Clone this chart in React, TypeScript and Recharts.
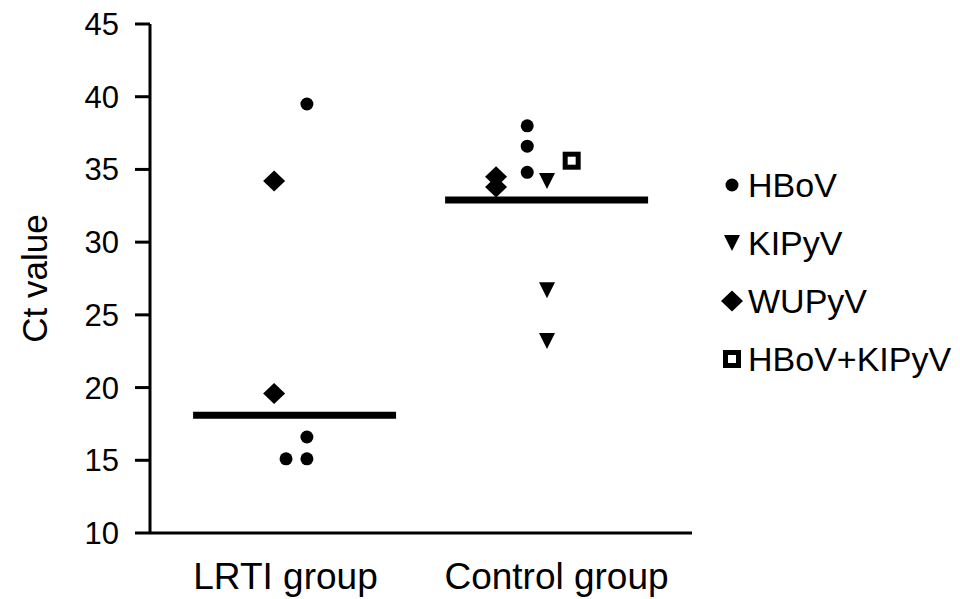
import React from "react";
import {
  ScatterChart,
  Scatter,
  XAxis,
  YAxis,
  ReferenceLine,
  Legend,
} from "recharts";

const groups = ["LRTI group", "Control group"];
const groupTicks = [0.5, 1.5];
const yTicks = [10, 15, 20, 25, 30, 35, 40, 45];
const seriesNames = ["HBoV", "KIPyV", "WUPyV", "HBoV+KIPyV"];

// x = group position with jitter, y = Ct value
const hbov = [
  { x: 0.579, y: 39.5 },
  { x: 0.579, y: 16.6 },
  { x: 0.502, y: 15.1 },
  { x: 0.579, y: 15.1 },
  { x: 1.392, y: 38.0 },
  { x: 1.392, y: 36.6 },
  { x: 1.392, y: 34.8 },
];
const kipyv = [
  { x: 1.465, y: 34.2 },
  { x: 1.465, y: 26.7 },
  { x: 1.465, y: 23.2 },
];
const wupyv = [
  { x: 0.458, y: 34.2 },
  { x: 0.458, y: 19.6 },
  { x: 1.277, y: 34.5 },
  { x: 1.277, y: 33.8 },
];
const hbovKipyv = [{ x: 1.556, y: 35.6 }];

const means = [18.1, 32.9];
const meanSpans = [
  [0.159, 0.908],
  [1.089, 1.838],
];

const FONT = '"Liberation Sans", Arial, sans-serif';

const CircleDot = (p: any) => <circle cx={p.cx} cy={p.cy} r={6.5} fill="#000" />;
const TriangleDot = (p: any) => (
  <polygon
    points={`${p.cx - 8},${p.cy - 8} ${p.cx + 8},${p.cy - 8} ${p.cx},${p.cy + 8}`}
    fill="#000"
  />
);
const DiamondDot = (p: any) => (
  <polygon
    points={`${p.cx},${p.cy - 10.5} ${p.cx + 11},${p.cy} ${p.cx},${p.cy + 10.5} ${p.cx - 11},${p.cy}`}
    fill="#000"
  />
);
const SquareDot = (p: any) => (
  <rect x={p.cx - 6.5} y={p.cy - 6.5} width={13} height={13} fill="#fff" stroke="#000" strokeWidth={5} />
);

const shapes: Record<string, any> = {
  HBoV: CircleDot,
  KIPyV: TriangleDot,
  WUPyV: DiamondDot,
  "HBoV+KIPyV": SquareDot,
};

const renderLegend = (props: any) => {
  const items = [...(props.payload || [])].sort(
    (a: any, b: any) => seriesNames.indexOf(a.value) - seriesNames.indexOf(b.value)
  );
  return (
    <div style={{ fontFamily: FONT }}>
      {items.map((entry: any) => {
        const Shape = shapes[entry.value];
        return (
          <div key={entry.value} style={{ display: "flex", alignItems: "center", height: 58 }}>
            <svg width={24} height={24}>
              <Shape cx={12} cy={12} />
            </svg>
            <span style={{ marginLeft: 4, fontSize: 34, color: "#000", whiteSpace: "nowrap" }}>
              {entry.value}
            </span>
          </div>
        );
      })}
    </div>
  );
};

export default function App() {
  return (
    <div style={{ position: "absolute", left: 0, top: 0, background: "#fff" }}>
      <ScatterChart
        width={960}
        height={599}
        margin={{ top: 24, right: 28, bottom: 0, left: 0 }}
        style={{ fontFamily: FONT }}
      >
        <XAxis
          type="number"
          dataKey="x"
          domain={[0, 2]}
          ticks={groupTicks}
          tickFormatter={(v: number) => groups[Math.floor(v)]}
          height={66}
          tickLine={false}
          tickMargin={24}
          axisLine={{ stroke: "#000", strokeWidth: 3 }}
          tick={{ fill: "#000", fontSize: 37 }}
        />
        <YAxis
          type="number"
          dataKey="y"
          domain={[10, 45]}
          ticks={yTicks}
          width={150}
          tickSize={15}
          tickMargin={16}
          axisLine={{ stroke: "#000", strokeWidth: 3 }}
          tickLine={{ stroke: "#000", strokeWidth: 3 }}
          tick={{ fill: "#000", fontSize: 31 }}
          label={{ value: "Ct value", angle: -90, position: "center", dx: -40, fill: "#000", fontSize: 35 }}
        />
        {means.map((m, i) => (
          <ReferenceLine
            key={i}
            segment={[
              { x: meanSpans[i][0], y: m },
              { x: meanSpans[i][1], y: m },
            ]}
            stroke="#000"
            strokeWidth={7}
          />
        ))}
        <Scatter name="HBoV" data={hbov} shape={CircleDot} isAnimationActive={false} />
        <Scatter name="KIPyV" data={kipyv} shape={TriangleDot} isAnimationActive={false} />
        <Scatter name="WUPyV" data={wupyv} shape={DiamondDot} isAnimationActive={false} />
        <Scatter name="HBoV+KIPyV" data={hbovKipyv} shape={SquareDot} isAnimationActive={false} />
        <Legend
          layout="vertical"
          align="right"
          verticalAlign="middle"
          content={renderLegend}
          wrapperStyle={{ position: "absolute", left: 720, top: 156, width: 240 }}
        />
      </ScatterChart>
    </div>
  );
}
